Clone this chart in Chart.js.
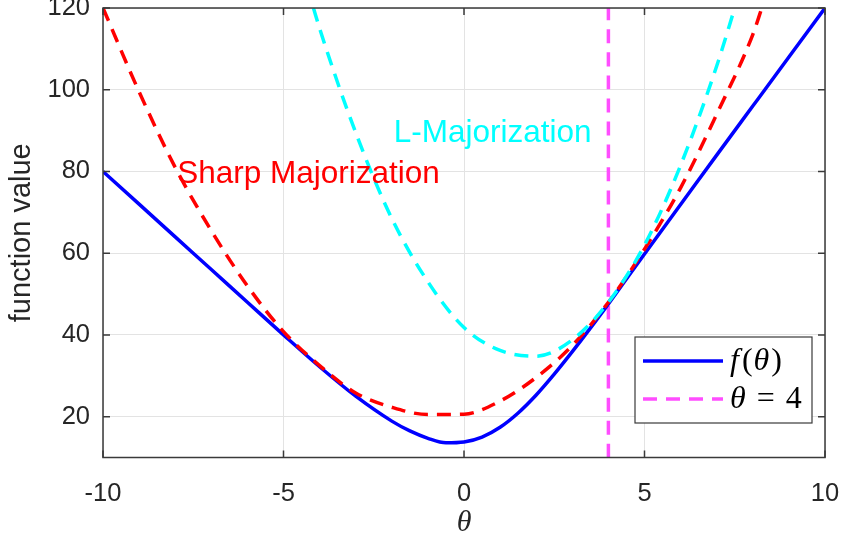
<!DOCTYPE html>
<html>
<head>
<meta charset="utf-8">
<script src="https://cdn.jsdelivr.net/npm/chart.js@4.4.1/dist/chart.umd.min.js"></script>
<style>
  html, body { margin: 0; padding: 0; background: #fff; }
  canvas { display: block; }
</style>
</head>
<body>
<canvas id="majCanvas" width="844" height="543"></canvas>
<script>
// objective f(theta)
const thetaF = [-10, -9, -8, -7, -6, -5, -4, -3, -2, -1.5, -1, -0.5, 0, 0.5, 1, 1.5, 2, 2.5, 3, 3.5, 4, 5, 6, 7, 8, 9, 10];
const fValues = [80, 72, 64, 56, 48, 40, 32.2, 25, 18.9, 16.5, 14.7, 13.6, 13.8, 15, 17.4, 20.9, 25.3, 30.4, 35.9, 41.65, 47.6, 59.8, 71.9, 84, 96, 108, 120];

// sharp quadratic majorizer
const thetaSharp = [-10, -9, -8, -7, -6, -5, -4, -3, -2, -1, 0, 1, 2, 3, 4, 5, 6, 7, 8, 8.25];
const sharpValues = [120, 99.5, 81, 65.5, 52, 40.8, 32.5, 25.8, 22.3, 20.5, 20.6, 23.8, 29.6, 37.4, 48, 61, 76, 94, 113.5, 120];

// Lipschitz majorizer
const thetaL = [-4.17, -4, -3, -2, -1, 0, 1, 2, 3, 4, 5, 6, 7, 7.5];
const lValues = [120, 115, 89.5, 68.5, 53, 41.8, 36.2, 34.8, 38.8, 48, 62, 81.5, 105.8, 120];

// expansion point
const thetaMark = [4, 4];
const markValues = [10, 120];

const xTicks = [-10, -5, 0, 5, 10];
const yTicks = [20, 40, 60, 80, 100, 120];

const textLabels = [
    { text: 'Sharp Majorization', x: -8, y: 80, color: '#ff0000' },
    { text: 'L-Majorization', x: -2, y: 90, color: '#00ffff' }
];

const AXIS_COLOR = '#3a3a3a';
const SANS = '"Liberation Sans", Arial, sans-serif';
const SERIF = '"Liberation Serif", "Times New Roman", serif';

function toPoints(xs, ys) {
    return xs.map((x, i) => ({ x: x, y: ys[i] }));
}

// draw a run of [text, italic, gap] pieces starting at x
function drawMath(ctx, pieces, x, y, size) {
    for (const [str, italic, gap] of pieces) {
        ctx.font = (italic ? 'italic ' : '') + size + 'px ' + SERIF;
        ctx.fillText(str, x, y);
        x += ctx.measureText(str).width + (gap || 0);
    }
}

const decor = {
    id: 'decor',
    afterDatasetsDraw(chart) {
        const { ctx, chartArea: a, scales } = chart;
        const xs = scales.x, ys = scales.y;
        ctx.save();

        // box and inward ticks on all four sides
        ctx.strokeStyle = AXIS_COLOR;
        ctx.lineWidth = 1.5;
        ctx.strokeRect(a.left, a.top, a.right - a.left, a.bottom - a.top);
        ctx.beginPath();
        for (const v of xTicks) {
            const px = xs.getPixelForValue(v);
            ctx.moveTo(px, a.bottom); ctx.lineTo(px, a.bottom - 7);
            ctx.moveTo(px, a.top); ctx.lineTo(px, a.top + 7);
        }
        for (const v of yTicks) {
            const py = ys.getPixelForValue(v);
            ctx.moveTo(a.left, py); ctx.lineTo(a.left + 7, py);
            ctx.moveTo(a.right, py); ctx.lineTo(a.right - 7, py);
        }
        ctx.stroke();

        // curve annotations
        ctx.font = '31.5px ' + SANS;
        ctx.textAlign = 'left';
        ctx.textBaseline = 'middle';
        for (const t of textLabels) {
            ctx.fillStyle = t.color;
            ctx.fillText(t.text, xs.getPixelForValue(t.x) + 2, ys.getPixelForValue(t.y) + 3);
        }

        // axis titles
        ctx.fillStyle = '#262626';
        ctx.textAlign = 'center';
        ctx.font = '29px ' + SANS;
        ctx.save();
        ctx.translate(22, (a.top + a.bottom) / 2);
        ctx.rotate(-Math.PI / 2);
        ctx.fillText('function value', 0, 0);
        ctx.restore();
        ctx.font = 'italic 30px ' + SERIF;
        ctx.fillText('θ', (a.left + a.right) / 2, 523);

        // legend
        const lx = 635, ly = 337, lw = 177, lh = 86;
        ctx.fillStyle = '#fff';
        ctx.fillRect(lx, ly, lw, lh);
        ctx.strokeStyle = AXIS_COLOR;
        ctx.lineWidth = 1.2;
        ctx.strokeRect(lx, ly, lw, lh);
        const rows = [
            { ds: chart.data.datasets[0], y: ly + 24, pieces: [['f', true, 3], ['(', false, 1], ['θ', true, 2], [')', false]] },
            { ds: chart.data.datasets[3], y: ly + 62, pieces: [['θ', true, 11], ['=', false, 11], ['4', false]] }
        ];
        for (const r of rows) {
            ctx.strokeStyle = r.ds.borderColor;
            ctx.lineWidth = r.ds.borderWidth;
            ctx.setLineDash(r.ds.borderDash || []);
            ctx.beginPath();
            ctx.moveTo(lx + 8, r.y);
            ctx.lineTo(lx + 88, r.y);
            ctx.stroke();
            ctx.setLineDash([]);
            ctx.fillStyle = '#000';
            ctx.textAlign = 'left';
            ctx.textBaseline = 'middle';
            drawMath(ctx, r.pieces, lx + 95, r.y + 1, 32);
        }
        ctx.restore();
    }
};

// higher order is drawn first, so the majorizers sit on top of f
new Chart(document.getElementById('majCanvas'), {
    type: 'scatter',
    data: {
        datasets: [
            {
                label: 'f(θ)',
                data: toPoints(thetaF, fValues),
                borderColor: '#0000ff',
                borderWidth: 3.5,
                order: 2
            },
            {
                label: 'Sharp Majorization',
                data: toPoints(thetaSharp, sharpValues),
                borderColor: '#ff0000',
                borderWidth: 3.5,
                borderDash: [14, 9],
                order: 1
            },
            {
                label: 'L-Majorization',
                data: toPoints(thetaL, lValues),
                borderColor: '#00ffff',
                borderWidth: 3.5,
                borderDash: [14, 9],
                order: 0
            },
            {
                label: 'θ = 4',
                data: toPoints(thetaMark, markValues),
                borderColor: '#ff4dff',
                borderWidth: 3.5,
                borderDash: [14, 9],
                order: 3
            }
        ]
    },
    options: {
        responsive: false,
        animation: false,
        devicePixelRatio: 1,
        showLine: true,
        layout: { padding: { top: 8, right: 19, left: 0, bottom: 0 } },
        elements: {
            point: { radius: 0, hoverRadius: 0 },
            line: { cubicInterpolationMode: 'monotone', fill: false, borderCapStyle: 'butt' }
        },
        scales: {
            x: {
                type: 'linear',
                min: -10,
                max: 10,
                afterBuildTicks: s => { s.ticks = xTicks.map(v => ({ value: v })); },
                afterFit: s => { s.height = 85.5; s.paddingLeft = 0; s.paddingRight = 0; },
                grid: { color: '#e3e3e3', drawTicks: false },
                border: { display: false },
                ticks: { color: '#262626', font: { family: SANS, size: 25.5 }, padding: 21, maxRotation: 0 }
            },
            y: {
                type: 'linear',
                min: 10,
                max: 120,
                afterBuildTicks: s => { s.ticks = yTicks.map(v => ({ value: v })); },
                afterFit: s => { s.width = 103; s.paddingTop = 0; s.paddingBottom = 0; },
                grid: { color: '#e3e3e3', drawTicks: false },
                border: { display: false },
                ticks: { color: '#262626', font: { family: SANS, size: 25.5 }, padding: 13 }
            }
        },
        plugins: {
            legend: { display: false },
            tooltip: { enabled: false }
        }
    },
    plugins: [decor]
});
</script>
</body>
</html>
